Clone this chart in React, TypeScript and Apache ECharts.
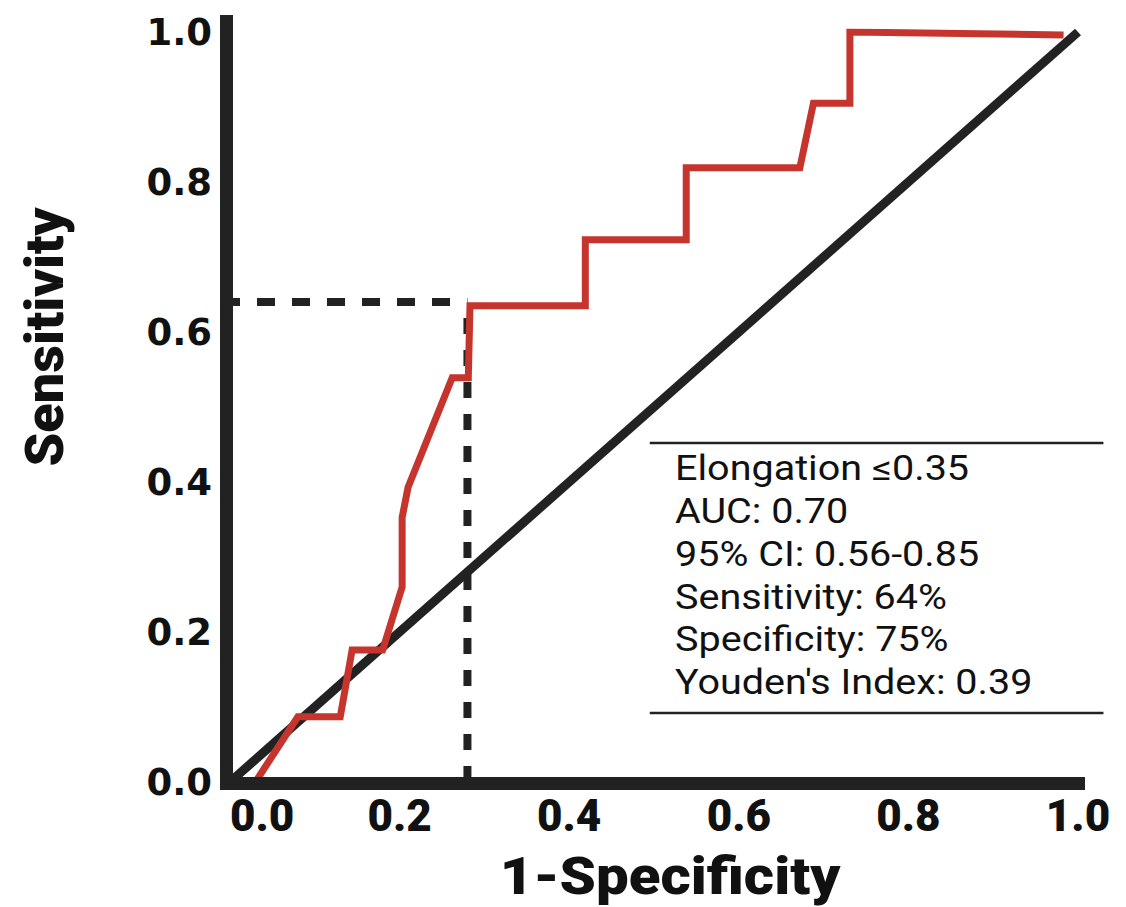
import React, { useEffect, useRef } from "react";
import * as echarts from "echarts";

const fpr = [0.03, 0.08, 0.13, 0.144, 0.18, 0.203, 0.203, 0.21, 0.262, 0.281, 0.283, 0.419, 0.419, 0.538, 0.538, 0.672, 0.688, 0.731, 0.731, 0.983];
const tpr = [0.0, 0.087, 0.087, 0.176, 0.176, 0.26, 0.353, 0.393, 0.539, 0.539, 0.635, 0.635, 0.723, 0.723, 0.819, 0.819, 0.905, 0.905, 1.0, 0.996];
const cutoffX = 0.28;
const cutoffY = 0.64;
const statLines = [
  "Elongation \u22640.35",
  "AUC: 0.70",
  "95% CI: 0.56-0.85",
  "Sensitivity: 64%",
  "Specificity: 75%",
  "Youden's Index: 0.39",
];

export default function App() {
  const ref = useRef<HTMLDivElement>(null);
  useEffect(() => {
    document.body.style.margin = "0";
    if (!ref.current) return;
    const chart = echarts.init(ref.current, null, { renderer: "svg" });
    const roc = fpr.map((x, i) => [x, tpr[i]]);
    chart.setOption({
      animation: false,
      backgroundColor: "#fff",
      grid: { left: 230, right: 48, top: 32, bottom: 125, containLabel: false },
      xAxis: {
        type: "value", min: 0, max: 1, interval: 0.2,
        axisLine: { show: false }, axisTick: { show: false }, splitLine: { show: false },
        axisLabel: {
          margin: 12, alignMinLabel: "left",
          formatter: (v: number) => v.toFixed(1),
          fontFamily: "Roboto", fontWeight: 900, fontSize: 44, color: "#111",
        },
      },
      yAxis: {
        type: "value", min: 0, max: 1, interval: 0.2,
        axisLine: { show: false }, axisTick: { show: false }, splitLine: { show: false },
        axisLabel: {
          margin: 18,
          formatter: (v: number) => v.toFixed(1),
          fontFamily: "DejaVu Sans", fontWeight: "bold", fontSize: 37, color: "#111",
        },
      },
      series: [
        {
          type: "line", data: [[0, cutoffY], [cutoffX, cutoffY]], symbol: "none", z: 2,
          lineStyle: { color: "#222", width: 8, type: [18, 17], dashOffset: 8 },
        },
        {
          type: "line", data: [[cutoffX, 0], [cutoffX, cutoffY]], symbol: "none", z: 2,
          lineStyle: { color: "#222", width: 8, type: [16, 16] },
        },
        {
          type: "line", data: [[0, 0], [1, 1]], symbol: "none", z: 3,
          lineStyle: { color: "#222", width: 9 },
        },
        {
          type: "line", data: roc, symbol: "none", z: 4,
          lineStyle: { color: "#C5352D", width: 7, join: "miter" },
        },
      ],
    });
    const p0 = chart.convertToPixel({ gridIndex: 0 }, [0, 0]) as number[];
    const p1 = chart.convertToPixel({ gridIndex: 0 }, [1, 1]) as number[];
    const lineStyle = { stroke: "#222", lineWidth: 13 };
    const boxLeft = chart.convertToPixel({ gridIndex: 0 }, [0.495, 0])[0];
    const boxRight = chart.convertToPixel({ gridIndex: 0 }, [1.03, 0])[0];
    const boxTop = chart.convertToPixel({ gridIndex: 0 }, [0, 0.452])[1];
    const boxBottom = chart.convertToPixel({ gridIndex: 0 }, [0, 0.092])[1];
    const graphic: any[] = [
      { type: "line", z: 10, shape: { x1: p0[0] - 3.5, y1: p0[1] + 7, x2: p0[0] - 3.5, y2: p1[1] - 17 }, style: lineStyle },
      { type: "line", z: 10, shape: { x1: p0[0] - 10, y1: p0[1] + 1.5, x2: p1[0] + 7, y2: p0[1] + 1.5 }, style: lineStyle },
      { type: "line", z: 10, shape: { x1: boxLeft, y1: boxTop, x2: boxRight, y2: boxTop }, style: { stroke: "#222", lineWidth: 2.5 } },
      { type: "line", z: 10, shape: { x1: boxLeft, y1: boxBottom, x2: boxRight, y2: boxBottom }, style: { stroke: "#222", lineWidth: 2.5 } },
      {
        type: "text", z: 10, x: 670, y: 876, scaleX: 1.12,
        style: { text: "1-Specificity", fontFamily: "Roboto", fontWeight: 900, fontSize: 52, fill: "#111", align: "center", verticalAlign: "middle" },
      },
      {
        type: "text", z: 10, x: 44, y: 337, rotation: Math.PI / 2,
        style: { text: "Sensitivity", fontFamily: "Roboto", fontWeight: 900, fontSize: 54, fill: "#111", align: "center", verticalAlign: "middle" },
      },
    ];
    statLines.forEach((t, i) => {
      graphic.push({
        type: "text", z: 10, x: 675, y: 468 + i * 42.8, scaleX: 1.13,
        style: { text: t, fontFamily: "Roboto", fontSize: 35, fill: "#111", align: "left", verticalAlign: "middle" },
      });
    });
    chart.setOption({ graphic });
    return () => chart.dispose();
  }, []);
  return <div ref={ref} style={{ width: 1126, height: 907 }} />;
}
